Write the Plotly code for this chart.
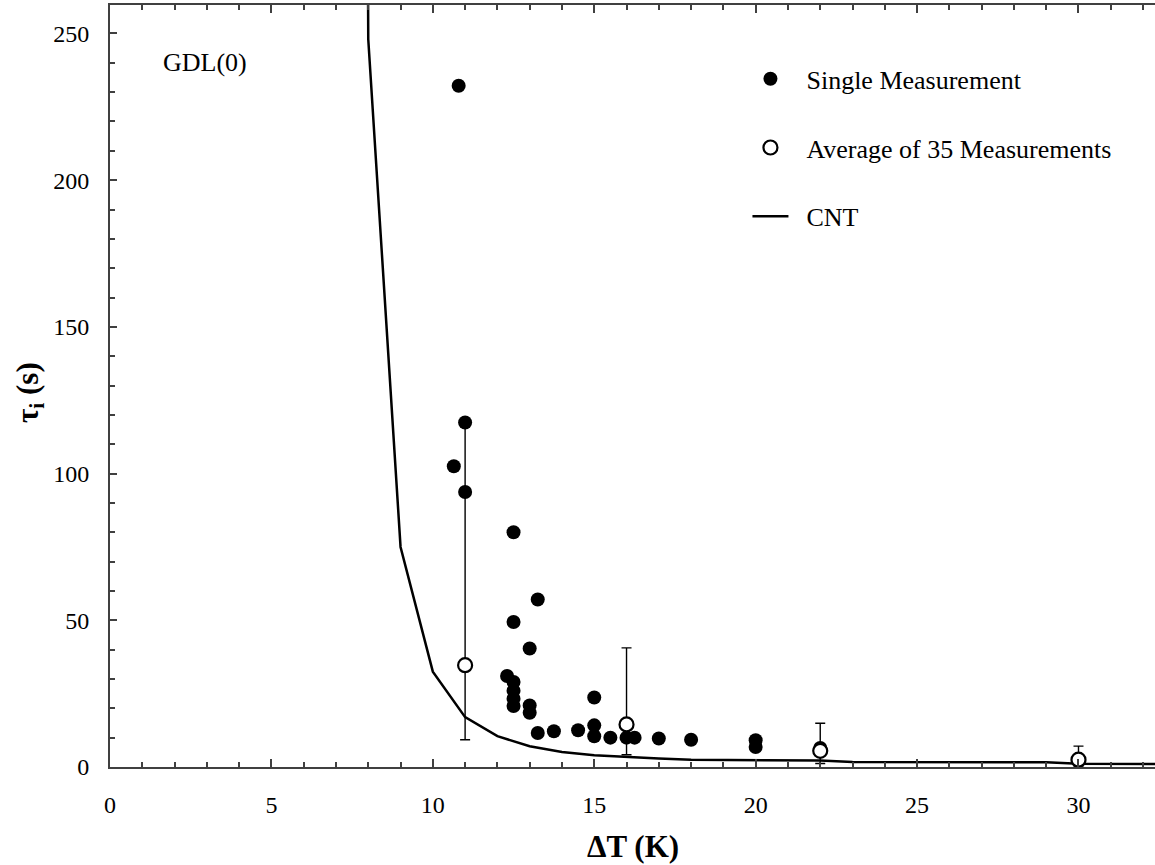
import plotly.graph_objects as go

# Single induction-time measurements: undercooling (K) and induction time (s)
single_dT = [10.8, 11.0, 10.65, 11.0, 12.5, 13.25, 12.5, 13.0, 12.3, 12.5, 12.5, 12.5,
             12.5, 13.0, 13.0, 13.25, 13.75, 14.5, 15.0, 15.0, 15.0, 15.5, 16.0, 16.25,
             17.0, 18.0, 20.0, 20.0, 22.0]
single_tau = [232.2, 117.4, 102.5, 93.7, 80.0, 57.1, 49.4, 40.4, 31.0, 29.0, 26.0, 23.3,
              20.8, 21.0, 18.5, 11.6, 12.2, 12.5, 23.7, 14.2, 10.5, 10.0, 10.0, 10.0,
              9.7, 9.3, 9.1, 6.8, 6.5]

# Averages of 35 measurements with asymmetric spread
avg_dT = [11, 16, 22, 30]
avg_tau = [34.7, 14.5, 5.5, 2.5]
avg_err_plus = [82.7, 26.1, 9.4, 4.6]
avg_err_minus = [25.4, 10.3, 4.3, 2.5]

# Classical nucleation theory prediction
cnt_dT = [7, 8, 9, 10, 11, 12, 13, 14, 15, 16, 17, 18, 20, 22, 23, 29, 30, 33]
cnt_tau = [2500, 248, 75, 32.5, 17.0, 10.5, 7.1, 5.1, 4.0, 3.4, 2.9, 2.5, 2.3, 2.2,
           1.7, 1.6, 1.1, 1.0]

x_ticks = [0, 5, 10, 15, 20, 25, 30]
y_ticks = [0, 50, 100, 150, 200, 250]

SERIF = "Liberation Serif, Times New Roman, serif"
AXIS_COLOR = "#404040"
PAD = "\u00a0\u00a0"  # small gap between legend symbol and label

fig = go.Figure()

fig.add_trace(go.Scatter(
    x=cnt_dT, y=cnt_tau, mode="lines", name=PAD + "CNT",
    line=dict(color="black", width=2.5),
    legendgroup="c", legendrank=3,
))

fig.add_trace(go.Scatter(
    x=single_dT, y=single_tau, mode="markers", name=PAD + "Single Measurement",
    marker=dict(symbol="circle", size=14, color="black"),
    legendgroup="a", legendrank=1,
))

fig.add_trace(go.Scatter(
    x=avg_dT, y=avg_tau, mode="markers", name=PAD + "Average of 35 Measurements",
    marker=dict(symbol="circle", size=14, color="white",
                line=dict(color="black", width=2.2)),
    error_y=dict(type="data", symmetric=False, array=avg_err_plus,
                 arrayminus=avg_err_minus, color="black", thickness=1.4, width=5),
    legendgroup="b", legendrank=2,
))

fig.update_layout(
    width=1155, height=865,
    margin=dict(l=110, r=0, t=5, b=98),
    paper_bgcolor="white", plot_bgcolor="white",
    font=dict(family=SERIF, size=24, color="black"),
    showlegend=True,
    legend=dict(
        x=0.61, y=0.934, xanchor="left", yanchor="top",
        bgcolor="rgba(0,0,0,0)", borderwidth=0,
        font=dict(family=SERIF, size=26, color="black"),
        tracegroupgap=32, itemwidth=36,
    ),
    xaxis=dict(
        range=[0, 32.37], tickvals=x_ticks, ticks="inside", ticklen=8, tickwidth=1.5,
        tickcolor=AXIS_COLOR, showline=True, linecolor=AXIS_COLOR, linewidth=2,
        mirror="ticks", showgrid=False, zeroline=False,
        minor=dict(ticks="inside", ticklen=5, dtick=1, tickwidth=1.5, tickcolor=AXIS_COLOR),
        tickfont=dict(family=SERIF, size=24, color="black"), ticklabelstandoff=15,
    ),
    yaxis=dict(
        range=[0, 259.7], tickvals=y_ticks, ticks="inside", ticklen=7, tickwidth=1.5,
        tickcolor=AXIS_COLOR, showline=True, linecolor=AXIS_COLOR, linewidth=2,
        showgrid=False, zeroline=False,
        minor=dict(ticks="inside", ticklen=5, dtick=10, tickwidth=1.5, tickcolor=AXIS_COLOR),
        tickfont=dict(family=SERIF, size=24, color="black"), ticklabelstandoff=14,
    ),
    annotations=[
        dict(text="GDL(0)", x=2.95, y=240, xref="x", yref="y", showarrow=False,
             font=dict(family=SERIF, size=26, color="black")),
        dict(text="<b>ΔT (K)</b>", x=0.5, y=-0.104, xref="paper", yref="paper",
             xanchor="center", yanchor="middle", showarrow=False,
             font=dict(family=SERIF, size=31, color="black")),
        dict(text="<b>τ<sub>i</sub> (s)</b>", x=-0.0766, y=0.492, xref="paper", yref="paper",
             xanchor="center", yanchor="middle", textangle=-90, showarrow=False,
             font=dict(family=SERIF, size=31, color="black")),
    ],
)

fig.write_html("out.html")
